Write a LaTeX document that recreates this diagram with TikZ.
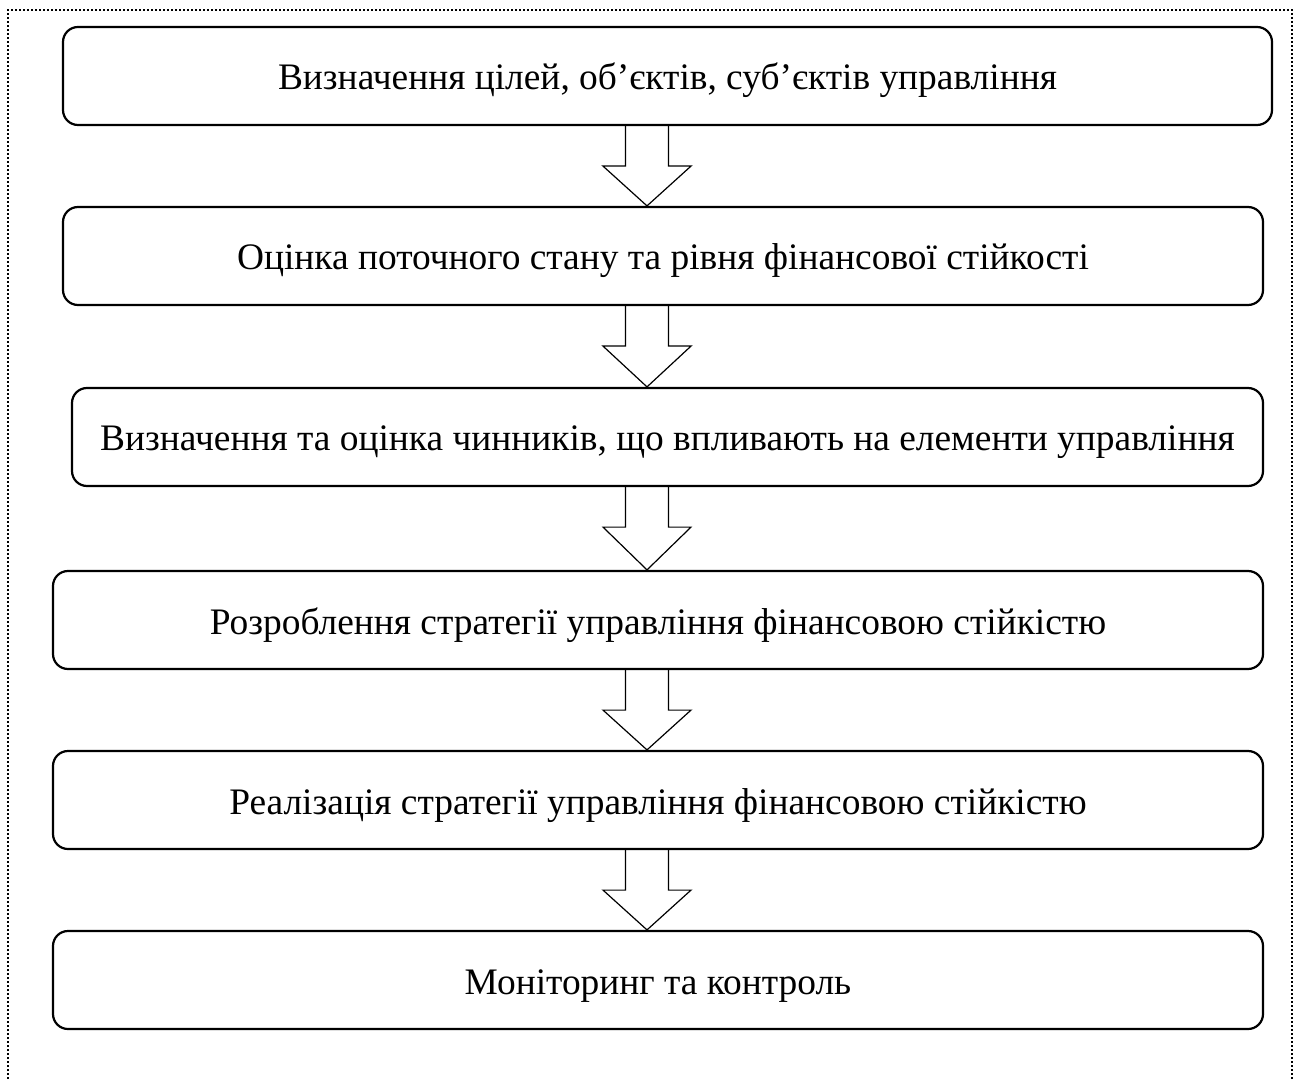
\documentclass[tikz,border=0pt]{standalone}
\usepackage{fontspec}
\setmainfont{Liberation Serif}
\usepackage{tikz}
\usetikzlibrary{calc}

% hollow block arrow between two stages
\newcommand{\blockarrow}[2]{%
  \draw[blockarr] ($(#1.south -| axis)+(-21.5,0)$) -- ++(0,40) -- ++(-22.5,0)
    -- ($(#2.north -| axis)$) -- ($(#1.south -| axis)+(44,40)$) -- ++(-22.5,0)
    -- ($(#1.south -| axis)+(21.5,0)$);}

\begin{document}
\begin{tikzpicture}[
    x=0.5pt, y=-0.5pt,
    stage/.style={rectangle, draw, line width=1.1pt, rounded corners=7.5pt,
                  font=\fontsize{18.7}{22}\selectfont, align=center,
                  text height=14pt, text depth=0pt,
                  minimum height=49pt, inner sep=0pt},
    blockarr/.style={line width=0.6pt, line join=miter},
    frame/.style={line width=1pt, dash pattern=on 1pt off 1pt}
]
\useasboundingbox (0,0) rectangle (1299,1079);

\draw[frame] (8,1079) -- (8,10) -- (1292,10) -- (1292,1079);

\coordinate (axis) at (647,0);

\node[stage, minimum width=604.5pt] (goals)    at (667.5,76)  {Визначення цілей, об’єктів, суб’єктів управління};
\node[stage, minimum width=600pt]   (assess)   at (663,256)   {Оцінка поточного стану та рівня фінансової стійкості};
\node[stage, minimum width=595.5pt] (factors)  at (667.5,437) {Визначення та оцінка чинників, що впливають на елементи управління};
\node[stage, minimum width=605pt]   (strategy) at (658,620)   {Розроблення стратегії управління фінансовою стійкістю};
\node[stage, minimum width=605pt]   (realize)  at (658,800)   {Реалізація стратегії управління фінансовою стійкістю};
\node[stage, minimum width=605pt]   (monitor)  at (658,980)   {Моніторинг та контроль};

\blockarrow{goals}{assess}
\blockarrow{assess}{factors}
\blockarrow{factors}{strategy}
\blockarrow{strategy}{realize}
\blockarrow{realize}{monitor}

\end{tikzpicture}
\end{document}
